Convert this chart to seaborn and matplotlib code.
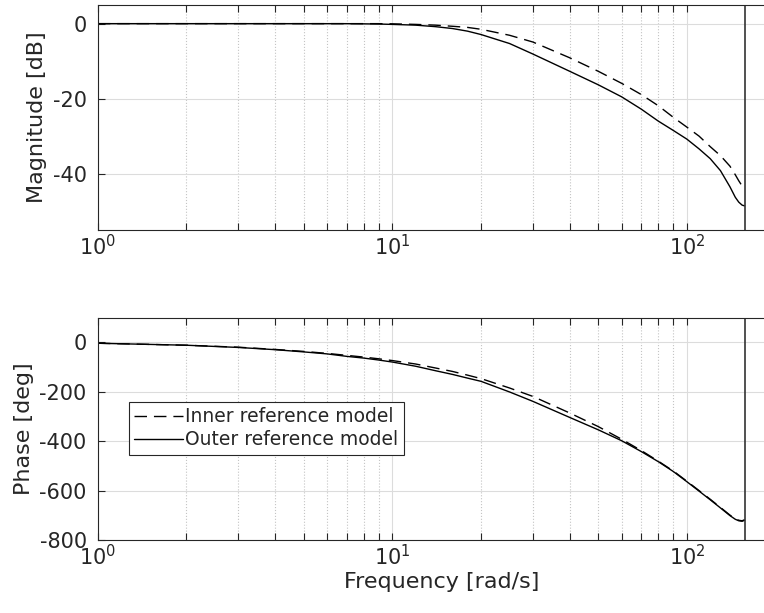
import numpy as np
import pandas as pd
import seaborn as sns
import matplotlib.pyplot as plt
from matplotlib.ticker import LogLocator, NullFormatter

# frequencies (rad/s)
freq = [1, 2, 3, 4, 5, 6, 7, 8, 9, 10, 12, 14, 16, 18, 20, 25, 30, 40, 50, 60, 70,
        80, 90, 100, 110, 120, 130, 140, 146, 150, 154, 157]

mag_inner = [0, 0, 0, 0, 0, 0, 0, 0, 0, -0.05, -0.2, -0.4, -0.7, -1.0, -1.5, -3.1,
             -4.9, -9.1, -12.7, -15.9, -18.9, -21.9, -25.0, -27.6, -30.0, -32.8,
             -35.2, -38.0, -40.3, -41.9, -43.3, -44.0]
mag_outer = [0, 0, 0, 0, 0, 0, 0, -0.05, -0.1, -0.2, -0.4, -0.8, -1.3, -2.0, -2.9,
             -5.3, -8.1, -12.7, -16.3, -19.5, -22.8, -26.0, -28.5, -30.8, -33.4,
             -36.0, -39.2, -43.5, -46.3, -47.6, -48.4, -48.6]

ph_inner = [-4, -12, -20, -29, -37, -45, -53, -60, -67, -74, -88, -104, -118, -133,
            -147, -185, -219, -286, -341, -392, -438, -481, -521, -562, -600, -635,
            -668, -699, -714, -720, -722, -718]
ph_outer = [-4, -12, -21, -30, -39, -47, -57, -64, -72, -80, -97, -115, -130, -145,
            -158, -201, -239, -304, -354, -398, -442, -483, -523, -564, -602, -637,
            -670, -701, -716, -722, -724, -720]

models = ["Inner reference model", "Outer reference model"]
nyquist = 157.08

df = pd.DataFrame({
    "freq": freq + freq,
    "mag": mag_inner + mag_outer,
    "phase": ph_inner + ph_outer,
    "model": [models[0]] * len(freq) + [models[1]] * len(freq),
})

sns.set_style("white")
plt.rcParams["font.family"] = ["DejaVu Sans"]
plt.rcParams["axes.unicode_minus"] = False

fig = plt.figure(figsize=(7.64, 6.13), dpi=100)
ax1 = fig.add_axes([0.128, 0.625, 0.9, 0.367])
ax2 = fig.add_axes([0.128, 0.119, 0.9, 0.363])

dashes = {models[0]: (9, 5), models[1]: ""}

for ax, col in [(ax1, "mag"), (ax2, "phase")]:
    sns.lineplot(data=df, x="freq", y=col, style="model", style_order=models,
                 dashes=dashes, color="black", lw=1, estimator=None,
                 legend=(ax is ax2), ax=ax)
    ax.axvline(nyquist, color="#333333", lw=1.2)
    ax.set_xscale("log")
    ax.set_xlim(1, 216)
    ax.xaxis.set_minor_locator(LogLocator(base=10, subs=np.arange(2, 10)))
    ax.xaxis.set_minor_formatter(NullFormatter())
    ax.grid(which="major", color="#dcdcdc", lw=0.8, ls="-")
    ax.grid(which="minor", axis="x", color="#c4c4c4", lw=0.8, ls=":")
    ax.tick_params(which="both", direction="in", top=True, bottom=True, left=True,
                   right=True, length=5, width=0.8, color="#262626",
                   labelsize=15, labelcolor="#262626")
    ax.tick_params(axis="x", which="major", pad=3)
    ax.tick_params(axis="y", which="major", pad=8)
    for s in ax.spines.values():
        s.set_color("#262626")
        s.set_linewidth(0.8)
    ax.set_xlabel("")

ax1.set_ylim(-55, 5)
ax1.set_yticks([0, -20, -40])
ax1.set_ylabel("Magnitude [dB]", fontsize=16, color="#262626")

ax2.set_ylim(-800, 100)
ax2.set_yticks([0, -200, -400, -600, -800])
ax2.set_ylabel("Phase [deg]", fontsize=16, color="#262626")
ax2.set_xlabel("Frequency [rad/s]", fontsize=16, color="#262626", labelpad=2)

leg = ax2.legend(loc="upper left", bbox_to_anchor=(0.045, 0.621), borderaxespad=0,
                 fontsize=13.5, fancybox=False, framealpha=1, edgecolor="#262626",
                 handlelength=2.6, handletextpad=0.1, borderpad=0.3, labelspacing=0.2)
leg.get_frame().set_linewidth(0.8)
for t in leg.get_texts():
    t.set_color("#262626")

fig.savefig("out.png", dpi=100)
